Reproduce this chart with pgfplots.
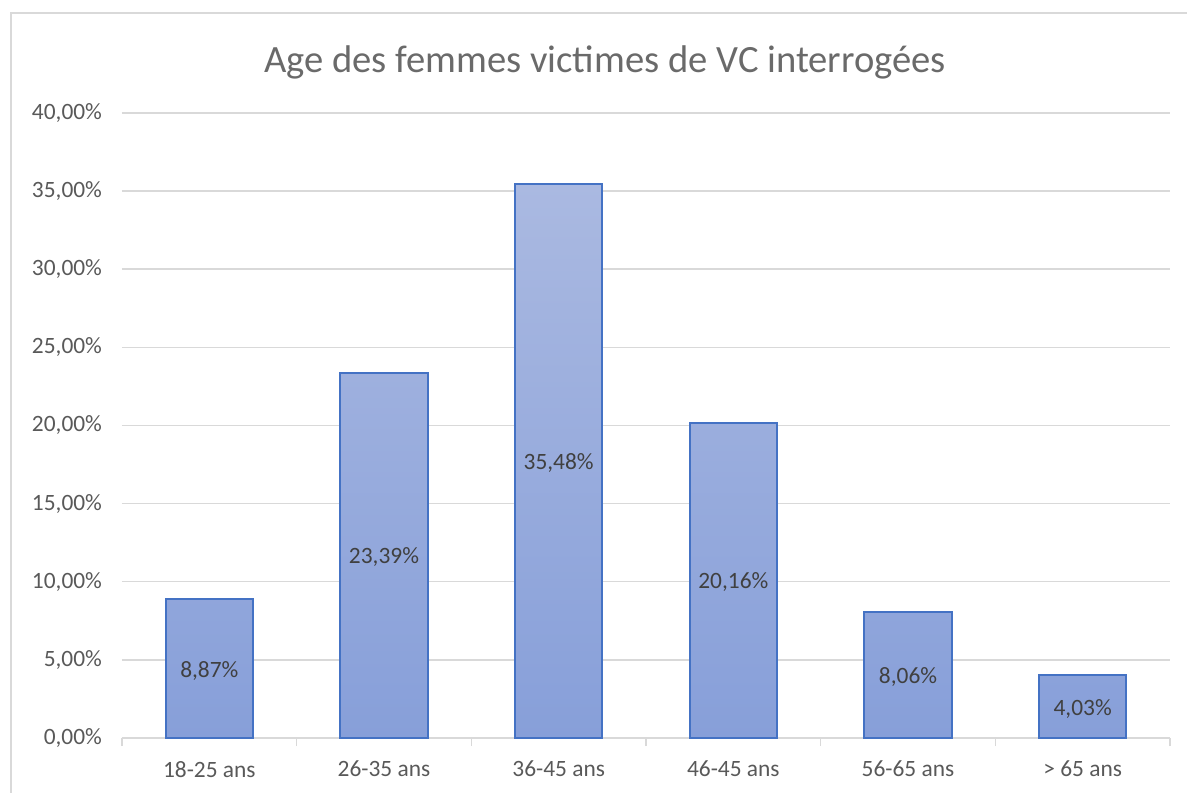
\documentclass[border=0pt]{standalone}
\usepackage{fontspec}
\setmainfont{Carlito}
\usepackage{pgfplots}
\pgfplotsset{compat=1.18}
\definecolor{txt}{HTML}{595959}
\definecolor{ttl}{HTML}{6A6A6A}
\definecolor{lbl}{HTML}{404040}
\definecolor{gridgray}{HTML}{D9D9D9}
\definecolor{bartop}{HTML}{AAB9E1}
\definecolor{barbot}{HTML}{879FD9}
\definecolor{barline}{HTML}{4472C4}
\begin{document}
\begin{tikzpicture}
\useasboundingbox (-61pt,-27pt) rectangle (532.5pt,369pt);
\begin{axis}[
  at={(0pt,0pt)}, anchor=south west,
  width=524pt, height=312.5pt, scale only axis,
  xmin=-0.5, xmax=5.5, ymin=0, ymax=40,
  enlargelimits=false, clip=false,
  /pgf/number format/assume math mode=true,
  xtick={0,...,5},
  xticklabels={18-25 ans,26-35 ans,36-45 ans,46-45 ans,56-65 ans,{> 65 ans}},
  minor xtick={-0.5,0.5,...,5.5},
  ytick={0,5,...,40},
  yticklabel={\pgfmathprintnumber[fixed,fixed zerofill,precision=2,use comma]{\tick}\%},
  axis x line*=bottom, axis y line*=left,
  x axis line style={gridgray, line width=0.75pt},
  y axis line style={draw=none},
  tick align=outside,
  major tick length=0pt,
  minor tick length=4pt,
  minor tick style={gridgray, line width=0.75pt},
  ytick style={draw=none},
  ymajorgrids,
  grid style={gridgray, line width=0.75pt},
  tick label style={txt, font=\fontsize{11.7}{14}\selectfont},
  yticklabel style={xshift=-6.5pt},
  xticklabel style={yshift=-8pt},
  ybar, bar width=0.5,
]
\addplot[ybar, draw=barline, line width=1pt, top color=bartop, bottom color=barbot,
  visualization depends on=y \as \rawy,
  nodes near coords={\pgfmathprintnumber[fixed,fixed zerofill,precision=2,use comma]{\pgfplotspointmeta}\%},
  every node near coord/.append style={lbl, anchor=center, yshift=-1pt, font=\fontsize{11.7}{14}\selectfont, shift={(axis direction cs:0,-\rawy/2)}},
] coordinates {(0,8.87) (1,23.39) (2,35.48) (3,20.16) (4,8.06) (5,4.03)};
\end{axis}
\node[ttl, font=\fontsize{19.3}{23}\selectfont] at (241.5pt,338pt) {Age des femmes victimes de VC interrogées};
\draw[gridgray, line width=0.75pt] (-55.5pt,-80pt) rectangle (620pt,362.5pt);
\end{tikzpicture}
\end{document}
